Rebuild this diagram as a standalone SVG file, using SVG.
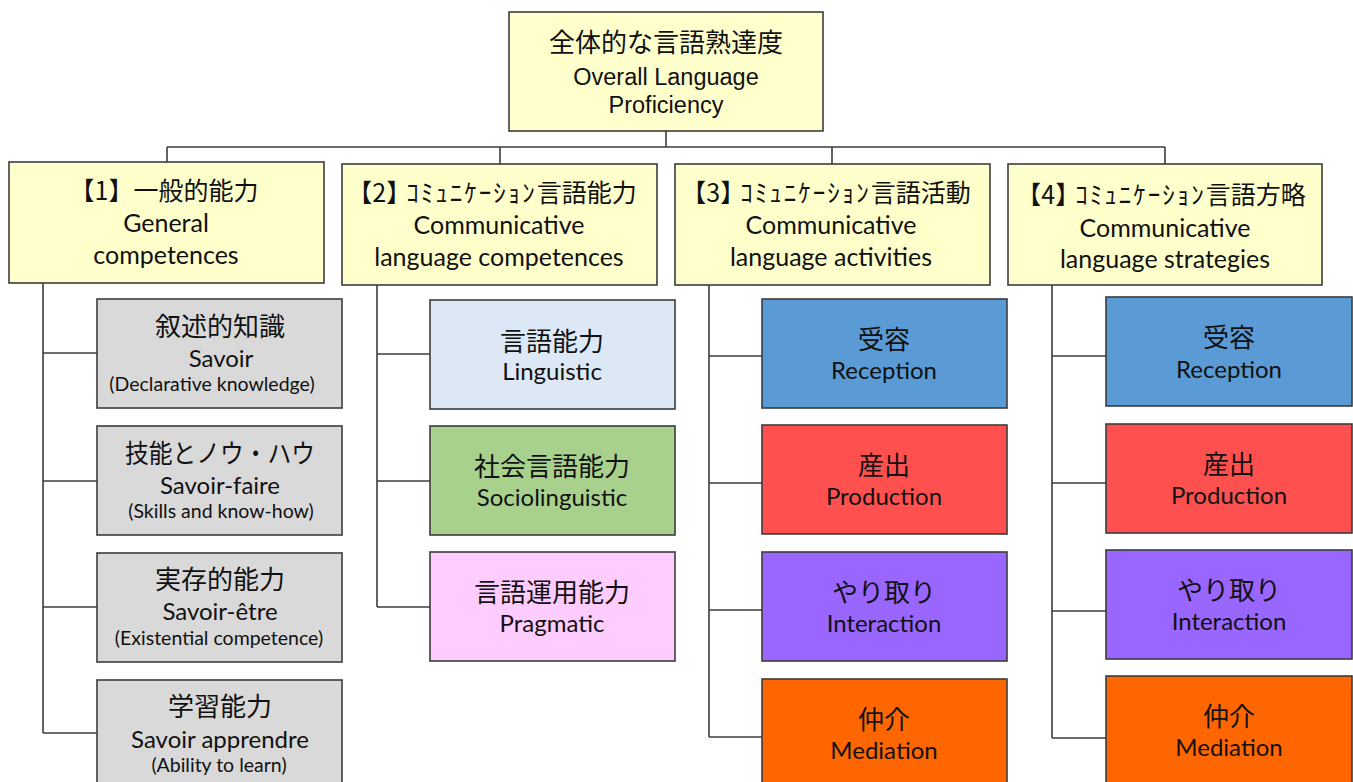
<svg xmlns="http://www.w3.org/2000/svg" width="1353" height="782" viewBox="0 0 1353 782">
<style>
.bx{stroke:#3c3c3c;stroke-width:1.6}
.yl{fill:#FFFFCC}
.gr{fill:#D9D9D9}
.lb{fill:#DDE8F6}
.gn{fill:#A9D18E}
.pk{fill:#FFCCFF}
.bl{fill:#5B9BD5}
.rd{fill:#FF5050}
.pu{fill:#9966FF}
.or{fill:#FF6600}
text{fill:#111;text-anchor:middle}
.jp{font-family:"Noto Sans CJK JP","Noto Sans CJK SC",sans-serif;font-size:26px}
.jt{font-family:"Noto Sans CJK JP","Noto Sans CJK SC",sans-serif;font-size:25px}
.kn{letter-spacing:2px}
.en{font-family:Lato,"Open Sans",sans-serif;font-size:24px}
.et{font-family:Lato,"Open Sans",sans-serif;font-size:25px}
.sm{font-family:Lato,"Open Sans",sans-serif;font-size:19.5px}
.ar{font-family:"Liberation Sans",Arial,sans-serif;font-size:23.5px}
.ln{fill:none;stroke:#3c3c3c;stroke-width:1.6}
</style>
<rect width="1353" height="782" fill="#fff"/>
<g id="connectors" class="ln">
<path d="M666 131V147M167 147H1165M167 147V162M500 147V164M832 147V164M1165 147V164"/>
<path d="M43 283V733M43 353H97M43 481H97M43 607H97M43 733H97"/>
<path d="M377 285V607M377 354H430M377 481H430M377 607H430"/>
<path d="M709 285V737M709 356H762M709 483H762M709 610H762M709 737H762"/>
<path d="M1052 285V738M1052 356H1106M1052 483H1106M1052 611H1106M1052 738H1106"/>
</g>
<g id="root">
<rect class="bx yl" x="509" y="12" width="314" height="119"/>
<text class="jp" x="666" y="52">全体的な言語熟達度</text>
<text class="ar" x="666" y="85">Overall Language</text>
<text class="ar" x="666" y="113">Proficiency</text>
</g>
<g id="general">
<rect class="bx yl" x="9" y="162" width="315" height="121"/>
<text class="jt" x="164" y="200">【1】一般的能力</text>
<text class="et" x="166" y="232">General</text>
<text class="et" x="166" y="264">competences</text>
</g>
<g id="comm-competences">
<rect class="bx yl" x="342" y="164" width="315" height="121"/>
<text class="jt" x="492" y="202">【2】<tspan class="kn" dx="-5">ｺﾐｭﾆｹｰｼｮﾝ</tspan>言語能力</text>
<text class="et" x="499" y="234">Communicative</text>
<text class="et" x="499" y="266">language competences</text>
</g>
<g id="comm-activities">
<rect class="bx yl" x="675" y="164" width="315" height="121"/>
<text class="jt" x="826" y="202">【3】<tspan class="kn" dx="-5">ｺﾐｭﾆｹｰｼｮﾝ</tspan>言語活動</text>
<text class="et" x="831" y="234">Communicative</text>
<text class="et" x="831" y="266">language activities</text>
</g>
<g id="comm-strategies">
<rect class="bx yl" x="1008" y="164" width="314" height="121"/>
<text class="jt" x="1161" y="204">【4】<tspan class="kn" dx="-5">ｺﾐｭﾆｹｰｼｮﾝ</tspan>言語方略</text>
<text class="et" x="1165" y="237">Communicative</text>
<text class="et" x="1165" y="268">language strategies</text>
</g>
<g id="savoir">
<rect class="bx gr" x="97" y="299" width="245" height="109"/>
<text class="jp" x="220" y="336">叙述的知識</text>
<text class="en" x="221" y="367">Savoir</text>
<text class="sm" x="212" y="391">(Declarative knowledge)</text>
</g>
<g id="savoir-faire">
<rect class="bx gr" x="97" y="426" width="245" height="109"/>
<text class="jp" x="220" y="463" textLength="190" lengthAdjust="spacingAndGlyphs">技能とノウ・ハウ</text>
<text class="en" x="220" y="494">Savoir-faire</text>
<text class="sm" x="221" y="518">(Skills and know-how)</text>
</g>
<g id="savoir-etre">
<rect class="bx gr" x="97" y="553" width="245" height="109"/>
<text class="jp" x="220" y="589">実存的能力</text>
<text class="en" x="220" y="620">Savoir-être</text>
<text class="sm" x="219" y="645">(Existential competence)</text>
</g>
<g id="savoir-apprendre">
<rect class="bx gr" x="97" y="680" width="245" height="109"/>
<text class="jp" x="220" y="716">学習能力</text>
<text class="en" x="220" y="748">Savoir apprendre</text>
<text class="sm" x="219" y="772">(Ability to learn)</text>
</g>
<g id="linguistic">
<rect class="bx lb" x="430" y="300" width="245" height="109"/>
<text class="jp" x="552" y="351">言語能力</text>
<text class="en" x="552" y="380">Linguistic</text>
</g>
<g id="sociolinguistic">
<rect class="bx gn" x="430" y="426" width="245" height="109"/>
<text class="jp" x="552" y="476">社会言語能力</text>
<text class="en" x="552" y="506">Sociolinguistic</text>
</g>
<g id="pragmatic">
<rect class="bx pk" x="430" y="552" width="245" height="109"/>
<text class="jp" x="552" y="602">言語運用能力</text>
<text class="en" x="552" y="632">Pragmatic</text>
</g>
<g id="act-reception">
<rect class="bx bl" x="762" y="299" width="245" height="109"/>
<text class="jp" x="884" y="349">受容</text>
<text class="en" x="884" y="379">Reception</text>
</g>
<g id="act-production">
<rect class="bx rd" x="762" y="425" width="245" height="109"/>
<text class="jp" x="884" y="475">産出</text>
<text class="en" x="884" y="505">Production</text>
</g>
<g id="act-interaction">
<rect class="bx pu" x="762" y="552" width="245" height="109"/>
<text class="jp" x="884" y="602">やり取り</text>
<text class="en" x="884" y="632">Interaction</text>
</g>
<g id="act-mediation">
<rect class="bx or" x="762" y="679" width="245" height="109"/>
<text class="jp" x="884" y="729">仲介</text>
<text class="en" x="884" y="759">Mediation</text>
</g>
<g id="str-reception">
<rect class="bx bl" x="1106" y="297" width="246" height="109"/>
<text class="jp" x="1229" y="347">受容</text>
<text class="en" x="1229" y="378">Reception</text>
</g>
<g id="str-production">
<rect class="bx rd" x="1106" y="424" width="246" height="109"/>
<text class="jp" x="1229" y="474">産出</text>
<text class="en" x="1229" y="504">Production</text>
</g>
<g id="str-interaction">
<rect class="bx pu" x="1106" y="550" width="246" height="109"/>
<text class="jp" x="1229" y="600">やり取り</text>
<text class="en" x="1229" y="630">Interaction</text>
</g>
<g id="str-mediation">
<rect class="bx or" x="1106" y="676" width="246" height="109"/>
<text class="jp" x="1229" y="726">仲介</text>
<text class="en" x="1229" y="756">Mediation</text>
</g>
</svg>
